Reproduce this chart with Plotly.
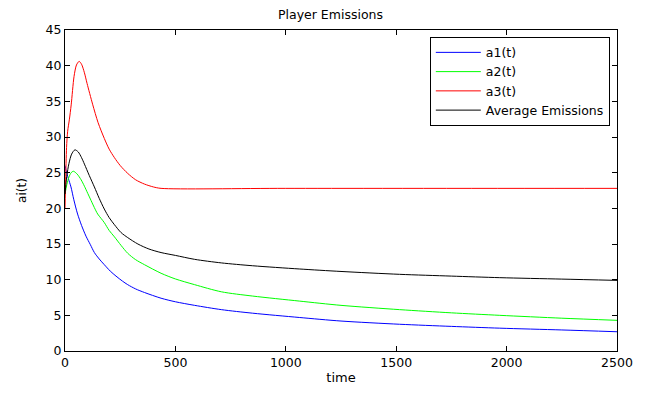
import plotly.graph_objects as go

t_a1 = [0, 5, 15, 27, 40, 57, 75, 95, 115, 133, 155, 178, 205, 231, 260, 284, 320, 360, 435, 500, 587, 708, 850, 1061, 1250, 1515, 1750, 1969, 2250, 2500]
a1 = [26.0, 25.3, 24.2, 23.0, 21.2, 19.2, 17.6, 16.1, 14.9, 13.8, 12.9, 12.1, 11.2, 10.5, 9.8, 9.3, 8.7, 8.2, 7.4, 6.9, 6.4, 5.8, 5.3, 4.7, 4.2, 3.75, 3.45, 3.2, 2.95, 2.7]

t_a2 = [0, 8, 18, 28, 38, 55, 73, 88, 103, 118, 133, 148, 163, 178, 200, 224, 254, 284, 320, 360, 435, 500, 587, 708, 850, 1061, 1250, 1515, 1750, 1969, 2250, 2500]
a2 = [22.0, 23.3, 24.4, 25.0, 25.2, 24.8, 24.0, 23.1, 22.1, 21.1, 20.1, 19.2, 18.6, 18.0, 16.9, 16.0, 14.8, 13.7, 12.8, 12.1, 10.9, 10.1, 9.3, 8.3, 7.7, 7.0, 6.4, 5.8, 5.35, 5.0, 4.6, 4.3]

t_a3 = [0, 3, 7, 12, 20, 28, 41, 52, 64, 75, 88, 100, 125, 150, 178, 200, 224, 250, 284, 320, 360, 400, 435, 1000, 2500]
a3 = [20.0, 24.0, 28.5, 30.8, 32.5, 34.5, 38.5, 40.1, 40.6, 40.2, 39.0, 37.5, 34.6, 32.0, 29.8, 28.3, 27.1, 26.0, 24.9, 24.0, 23.4, 23.0, 22.8, 22.8, 22.8]

t_avg = [0, 8, 18, 30, 45, 60, 75, 88, 110, 133, 155, 178, 200, 224, 254, 284, 330, 380, 435, 500, 587, 708, 850, 1061, 1250, 1515, 1750, 1969, 2250, 2500]
avg = [22.0, 24.5, 26.3, 27.6, 28.2, 27.9, 27.1, 26.2, 24.6, 23.0, 21.4, 19.9, 18.7, 17.7, 16.6, 15.9, 15.0, 14.3, 13.8, 13.4, 12.85, 12.35, 11.95, 11.5, 11.15, 10.75, 10.5, 10.28, 10.08, 9.9]

x_ticks = [0, 500, 1000, 1500, 2000, 2500]
y_ticks = [0, 5, 10, 15, 20, 25, 30, 35, 40, 45]

font_family = "DejaVu Sans, Liberation Sans, Arial, sans-serif"

fig = go.Figure()
line_style = dict(width=1, shape="spline", smoothing=0.8)
fig.add_trace(go.Scatter(x=t_a1, y=a1, mode="lines", name="a1(t)", line=dict(color="#0000ff", **line_style)))
fig.add_trace(go.Scatter(x=t_a2, y=a2, mode="lines", name="a2(t)", line=dict(color="#00ff00", **line_style)))
fig.add_trace(go.Scatter(x=t_a3, y=a3, mode="lines", name="a3(t)", line=dict(color="#ff0000", **line_style)))
fig.add_trace(go.Scatter(x=t_avg, y=avg, mode="lines", name="Average Emissions", line=dict(color="#000000", **line_style)))

axis_common = dict(
    showline=True, linecolor="black", linewidth=1, mirror="ticks",
    ticks="inside", ticklen=5, tickcolor="black", showgrid=False, zeroline=False,
    tickfont=dict(size=12.5, color="black", family=font_family),
)

# page body has an 8px margin; size the figure so the plot area lands where the reference has it
fig.update_layout(
    width=645, height=386,
    margin=dict(l=57, r=36, t=22, b=36),
    paper_bgcolor="white", plot_bgcolor="white",
    font=dict(family=font_family, color="black"),
    title=dict(text="Player Emissions", x=0.5, xanchor="center", y=0.984, yanchor="middle",
               font=dict(size=12.5, color="black", family=font_family)),
    xaxis=dict(range=[0, 2500], tickvals=x_ticks,
               title=dict(text="time", font=dict(size=13), standoff=3), **axis_common),
    yaxis=dict(range=[0, 45], tickvals=y_ticks,
               title=dict(text="ai(t)", font=dict(size=12), standoff=16), **axis_common),
    legend=dict(x=0.987, y=0.979, xanchor="right", yanchor="top",
                bordercolor="black", borderwidth=1, bgcolor="white",
                font=dict(size=12.5, color="black", family=font_family),
                tracegroupgap=0, itemwidth=45),
    showlegend=True,
)

fig.write_html("out.html")
